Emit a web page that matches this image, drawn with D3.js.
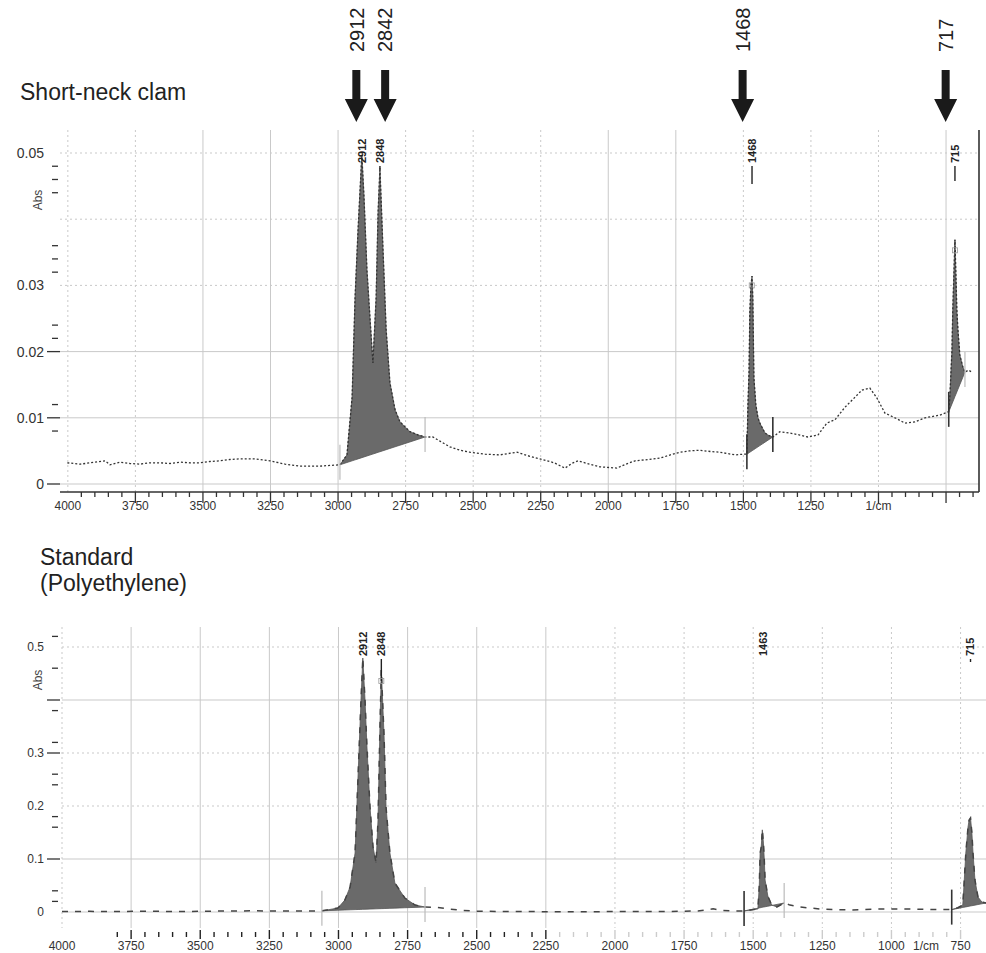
<!DOCTYPE html>
<html>
<head>
<meta charset="utf-8">
<script src="https://cdn.jsdelivr.net/npm/d3@7"></script>
<style>
  body { margin: 0; background: #fff; }
  svg text { font-family: "Liberation Sans", Arial, sans-serif; }
</style>
</head>
<body>
<svg id="chart" width="986" height="953"></svg>
<script>
// ---- DATA ----
// Short-neck clam spectrum: wavenumber (1/cm) and absorbance
const clamWn = [4002, 3954, 3899, 3862, 3844, 3807, 3770, 3733, 3696, 3659, 3622, 3585, 3548, 3511, 3474, 3437, 3400, 3363, 3307, 3252, 3196, 3141, 3104, 3067, 3030,
  2993, 2967, 2948, 2937, 2926, 2912, 2904, 2893, 2882, 2871, 2859, 2852, 2845, 2834, 2822, 2808, 2789, 2771, 2734, 2703, 2678,
  2649, 2620, 2586, 2549, 2512, 2456, 2401, 2370, 2338, 2300, 2253, 2200, 2160, 2135, 2112, 2070, 2031, 1968, 1935, 1901, 1850, 1809, 1770, 1735, 1700, 1661, 1620, 1587, 1531, 1500,
  1487, 1483, 1479, 1476, 1472, 1468, 1465, 1461, 1454, 1446, 1439, 1420, 1405, 1391,
  1365, 1328, 1291, 1261, 1224, 1191, 1161, 1124, 1087, 1061, 1032, 1006, 976, 939, 902, 865, 828, 773, 743,
  740, 736, 728, 725, 717, 710, 706, 699, 688, 680, 667, 654];
const clamAbs = [0.0032, 0.0030, 0.0033, 0.0035, 0.0029, 0.0033, 0.0031, 0.0030, 0.0032, 0.0032, 0.0031, 0.0033, 0.0032, 0.0032, 0.0034, 0.0035, 0.0037, 0.0038, 0.0038, 0.0035, 0.0030, 0.0027, 0.0027, 0.0027, 0.0028,
  0.0029, 0.0044, 0.0131, 0.0282, 0.0384, 0.0497, 0.0434, 0.0323, 0.0252, 0.0183, 0.0282, 0.0409, 0.0477, 0.0358, 0.0233, 0.0153, 0.0112, 0.0094, 0.0079, 0.0074, 0.0071,
  0.0071, 0.0064, 0.0056, 0.0051, 0.0048, 0.0045, 0.0044, 0.0046, 0.0048, 0.0043, 0.0038, 0.0032, 0.0024, 0.0031, 0.0035, 0.0030, 0.0026, 0.0024, 0.0030, 0.0035, 0.0037, 0.0039, 0.0044, 0.0048, 0.0050, 0.0051, 0.0049, 0.0048, 0.0044, 0.0045,
  0.0045, 0.0120, 0.0170, 0.0260, 0.0300, 0.0314, 0.0280, 0.0160, 0.0120, 0.0100, 0.0092, 0.0077, 0.0073, 0.0071,
  0.0079, 0.0077, 0.0074, 0.0071, 0.0074, 0.0092, 0.0097, 0.0116, 0.0131, 0.0142, 0.0145, 0.0130, 0.0107, 0.0100, 0.0092, 0.0094, 0.0100, 0.0104, 0.0109,
  0.0109, 0.0131, 0.0202, 0.0263, 0.0369, 0.0263, 0.0233, 0.0195, 0.0177, 0.0169, 0.0172, 0.0169];
const clamBands = [[2993, 2678], [1487, 1391], [740, 680]];
const clamPeakLabels = ["2912", "2848", "1468", "715"];
const clamPeakWn = [2912, 2845, 1468, 717];

// Standard (polyethylene) spectrum
const peWn = [4000, 3900, 3800, 3700, 3600, 3500, 3400, 3300, 3200, 3100,
  3060, 3042, 3002, 2977, 2958, 2940, 2933, 2926, 2919, 2912, 2904, 2897, 2886, 2875, 2864, 2857, 2850, 2845, 2835, 2828, 2814, 2796, 2760, 2723, 2687,
  2650, 2600, 2550, 2500, 2400, 2300, 2200, 2100, 2000, 1900, 1800, 1700, 1645, 1620, 1580,
  1533, 1483, 1478, 1475, 1471, 1467, 1463, 1460, 1457, 1447, 1433, 1414, 1388,
  1367, 1331, 1258, 1150, 1042, 933, 850,
  782, 760, 742, 738, 731, 723, 719, 714, 709, 705, 698, 687, 673, 658];
const peAbs = [0.0010, 0.0012, 0.0010, 0.0015, 0.0010, 0.0012, 0.0020, 0.0022, 0.0018, 0.0020,
  0.0022, 0.0038, 0.0075, 0.0226, 0.0472, 0.1113, 0.2057, 0.3000, 0.3943, 0.4792, 0.4000, 0.3113, 0.1981, 0.1226, 0.0925, 0.1736, 0.3490, 0.4566, 0.3302, 0.1981, 0.1113, 0.0547, 0.0264, 0.0132, 0.0094,
  0.0090, 0.0057, 0.0030, 0.0015, 0.0010, 0.0008, 0.0005, 0.0005, 0.0008, 0.0008, 0.0010, 0.0020, 0.0060, 0.0030, 0.0020,
  0.0020, 0.0057, 0.0500, 0.1113, 0.1226, 0.1550, 0.1300, 0.1000, 0.0604, 0.0300, 0.0132, 0.0094, 0.0170,
  0.0130, 0.0094, 0.0057, 0.0038, 0.0057, 0.0057, 0.0045,
  0.0045, 0.0080, 0.0132, 0.0472, 0.1113, 0.1604, 0.1736, 0.1774, 0.1490, 0.1113, 0.0604, 0.0283, 0.0189, 0.0170];
const peBands = [[3060, 2687], [1533, 1388], [782, 658]];
const pePeakLabels = ["2912", "2848", "1463", "715"];
const pePeakWn = [2912, 2845, 1465, 714];

// Arrow annotations above the top spectrum
const arrowLabels = ["2912", "2842", "1468", "717"];
const arrowWn = [2912, 2842, 1468, 717];

// Axis ticks
const gridWn = [4000, 3750, 3500, 3250, 3000, 2750, 2500, 2250, 2000, 1750, 1500, 1250, 1000, 750];
const topXLabels = ["4000", "3750", "3500", "3250", "3000", "2750", "2500", "2250", "2000", "1750", "1500", "1250", "1/cm"];
const botXLabels = ["4000", "3750", "3500", "3250", "3000", "2750", "2500", "2250", "2000", "1750", "1500", "1250", "1000", "1/cm", "750"];
const botXLabelWn = [4000, 3750, 3500, 3250, 3000, 2750, 2500, 2250, 2000, 1750, 1500, 1250, 1000, 875, 750];
const topYLabels = [0.05, 0.03, 0.02, 0.01, 0];
const topYMajor = [0.02, 0.01, 0];
const topYMinor = [0.048, 0.046, 0.044, 0.036, 0.034, 0.032, 0.024, 0.022, 0.012, 0.008];
const topYGrid = [0, 0.01, 0.02, 0.03, 0.04, 0.05];
const botYLabels = [0.5, 0.3, 0.2, 0.1, 0];
const botYMajor = [0.4, 0.3, 0.1];
const botYMinor = [0.52, 0.46, 0.38, 0.32, 0.26, 0.24, 0.18, 0.16, 0.04, 0.02];
const botYGrid = [0, 0.1, 0.2, 0.3, 0.4, 0.5];

// ---- SCALES ----
const svg = d3.select("#chart");
const xTop = d3.scaleLinear().domain([4029, 628]).range([60, 979]);
const yTop = d3.scaleLinear().domain([0, 0.05]).range([484, 153]);
const xBot = d3.scaleLinear().domain([4000, 658]).range([62, 986]);
const yBot = d3.scaleLinear().domain([0, 0.5]).range([912, 647]);

const GRID = "#c9c9c9";
const FILL = "#6a6a6a";

function fmt(v) { return v === 0 ? "0" : String(v); }

function drawPanel(p) {
  const g = svg.append("g");
  const [px0, px1] = p.x.range();

  // vertical grid
  g.selectAll(".vg").data(gridWn.filter(w => p.x(w) >= px0 - 1 && p.x(w) <= px1)).join("line")
    .attr("x1", d => p.x(d)).attr("x2", d => p.x(d))
    .attr("y1", p.top).attr("y2", p.bottom)
    .attr("stroke", GRID).attr("stroke-width", 1)
    .attr("stroke-dasharray", d => p.solidX.includes(d) ? null : "2,3");

  // horizontal grid
  g.selectAll(".hg").data(p.yGrid).join("line")
    .attr("x1", px0).attr("x2", px1)
    .attr("y1", d => p.y(d)).attr("y2", d => p.y(d))
    .attr("stroke", GRID).attr("stroke-width", 1)
    .attr("stroke-dasharray", d => p.solidY.includes(d) ? null : "2,3");

  // y axis ticks and labels
  g.selectAll(".ymin").data(p.yMinor).join("line")
    .attr("x1", 52).attr("x2", 58).attr("y1", d => p.y(d)).attr("y2", d => p.y(d))
    .attr("stroke", "#333").attr("stroke-width", 1.3);
  g.selectAll(".ymaj").data(p.yMajor).join("line")
    .attr("x1", 47).attr("x2", 60).attr("y1", d => p.y(d)).attr("y2", d => p.y(d))
    .attr("stroke", "#333").attr("stroke-width", 1.3);
  g.selectAll(".ylab").data(p.yLabels).join("text")
    .attr("x", 44).attr("y", d => p.y(d)).attr("dy", "0.36em")
    .attr("text-anchor", "end").attr("font-size", p.yFont).attr("fill", "#333")
    .text(fmt);
  g.append("text").attr("transform", `translate(38,${p.absY}) rotate(-90)`)
    .attr("dy", "0.36em").attr("text-anchor", "middle").attr("font-size", 12).attr("fill", "#444").text("Abs");

  const data = p.wn.map((w, i) => [w, p.abs[i]]);
  const line = d3.line().x(d => p.x(d[0])).y(d => p.y(d[1]));

  // integrated peak areas (between spectrum and straight baseline)
  p.bands.forEach(([hi, lo]) => {
    const pts = data.filter(d => d[0] <= hi && d[0] >= lo);
    const a = pts[0], b = pts[pts.length - 1];
    const base = w => a[1] + (b[1] - a[1]) * (w - a[0]) / (b[0] - a[0]);
    g.append("path").datum(pts)
      .attr("d", d3.area().x(d => p.x(d[0])).y0(d => p.y(base(d[0]))).y1(d => p.y(d[1])))
      .attr("fill", FILL).attr("stroke", "#555").attr("stroke-width", 0.8);
  });

  // spectrum trace
  g.append("path").datum(data).attr("d", line)
    .attr("fill", "none").attr("stroke", p.lineColor).attr("stroke-width", p.lineWidth)
    .attr("stroke-dasharray", p.dash);

  // band limit markers
  const ends = p.bands.flat();
  ends.forEach((w, i) => {
    const col = p.markerColors[i];
    if (!col) return;
    const d = data.find(e => e[0] === w);
    const cy = p.y(d[1]);
    g.append("line").attr("x1", p.x(w)).attr("x2", p.x(w))
      .attr("y1", cy - 20).attr("y2", cy + 15)
      .attr("stroke", col).attr("stroke-width", col === "#333" ? 1.6 : 1.2);
  });

  // peak labels
  p.peakWn.forEach((w, i) => {
    const cx = p.x(w);
    g.append("text").attr("transform", `translate(${cx},${p.labelEnd}) rotate(-90)`)
      .attr("dy", "0.36em").attr("text-anchor", "start")
      .attr("font-family", "'Liberation Sans Narrow', 'Arial Narrow', sans-serif")
      .attr("font-weight", "bold").attr("font-size", 11).attr("fill", "#222")
      .text(p.peakLabels[i]);
    if (p.peakTicks[i] > 0) {
      g.append("line").attr("x1", cx).attr("x2", cx)
        .attr("y1", p.labelEnd + 3).attr("y2", p.labelEnd + 3 + p.peakTicks[i])
        .attr("stroke", "#222").attr("stroke-width", 1.4);
    }
  });
  p.squares.forEach(([w, v]) => {
    g.append("rect").attr("x", p.x(w) - 2.5).attr("y", p.y(v) - 2.5)
      .attr("width", 5).attr("height", 5).attr("fill", "none")
      .attr("stroke", "#999").attr("stroke-width", 0.8);
  });
  return g;
}

// ---- TOP PANEL: short-neck clam ----
const gTop = drawPanel({
  x: xTop, y: yTop, top: 130, bottom: 492,
  wn: clamWn, abs: clamAbs, bands: clamBands,
  solidX: [3500, 3250, 3000, 2000, 1750, 750], yGrid: topYGrid, solidY: [0, 0.01, 0.02],
  yMinor: topYMinor, yMajor: topYMajor, yLabels: topYLabels, yFont: 14, absY: 200,
  lineColor: "#333", lineWidth: 1.3, dash: "2,2",
  markerColors: ["#bbb", "#bbb", "#333", "#333", "#333", "#bbb"],
  peakWn: clamPeakWn, peakLabels: clamPeakLabels, labelEnd: 163,
  peakTicks: [0, 3, 18, 15],
  squares: [[1469, 0.030], [717, 0.0353]]
});
// frame: right border and bottom axis
gTop.append("line").attr("x1", 979).attr("x2", 979).attr("y1", 130).attr("y2", 492)
  .attr("stroke", "#333").attr("stroke-width", 1.6);
gTop.append("line").attr("x1", 60).attr("x2", 979).attr("y1", 492).attr("y2", 492)
  .attr("stroke", "#333").attr("stroke-width", 1.6);
const topTicks = d3.range(3950, 640, -50);
gTop.selectAll(".xt").data(topTicks).join("line")
  .attr("x1", d => xTop(d)).attr("x2", d => xTop(d))
  .attr("y1", 492).attr("y2", d => d % 250 === 0 ? 503 : 497)
  .attr("stroke", "#333").attr("stroke-width", 1.3);
gTop.selectAll(".xl").data(topXLabels).join("text")
  .attr("x", (d, i) => xTop(gridWn[i])).attr("y", 510)
  .attr("text-anchor", "middle").attr("font-size", 12).attr("fill", "#333")
  .text(d => d);

// ---- BOTTOM PANEL: polyethylene standard ----
const gBot = drawPanel({
  x: xBot, y: yBot, top: 627, bottom: 928,
  wn: peWn, abs: peAbs, bands: peBands,
  solidX: [3750, 3500, 3250, 3000, 2750, 2500, 2250], yGrid: botYGrid, solidY: [0, 0.1, 0.4],
  yMinor: botYMinor, yMajor: botYMajor, yLabels: botYLabels, yFont: 12, absY: 680,
  lineColor: "#444", lineWidth: 1.5, dash: "6,7",
  markerColors: ["#bbb", "#bbb", "#333", "#bbb", "#333", null],
  peakWn: pePeakWn, peakLabels: pePeakLabels, labelEnd: 656,
  peakTicks: [0, 22, 0, 3],
  squares: [[2845, 0.436]]
});
const botTicks = d3.range(3800, 700, -50);
gBot.selectAll(".xt").data(botTicks).join("line")
  .attr("x1", d => xBot(d)).attr("x2", d => xBot(d))
  .attr("y1", d => d % 250 === 0 ? 930 : 932).attr("y2", d => d % 250 === 0 ? 939 : 937)
  .attr("stroke", d => d >= 2250 ? "#222" : "#ccc").attr("stroke-width", 1.4);
gBot.selectAll(".xl").data(botXLabels).join("text")
  .attr("x", (d, i) => xBot(botXLabelWn[i])).attr("y", 950)
  .attr("text-anchor", "middle").attr("font-size", 12).attr("fill", "#333")
  .text(d => d);

// ---- ANNOTATIONS ----
// arrows sit a little left of their peaks in the source; the 2912/2842 pair is spread apart
const arrowNudge = [-5.5, 4.4, -9.4, -9.3];
arrowWn.forEach((w, i) => {
  const cx = xTop(w) + arrowNudge[i];
  svg.append("path")
    .attr("d", `M${cx - 4},70 H${cx + 4} V99 H${cx + 11.5} L${cx},122 L${cx - 11.5},99 H${cx - 4} Z`)
    .attr("fill", "#1a1a1a");
  svg.append("text").attr("transform", `translate(${cx},52) rotate(-90)`)
    .attr("dy", "0.36em").attr("text-anchor", "start")
    .attr("font-size", 20).attr("fill", "#222").text(arrowLabels[i]);
});

svg.append("text").attr("x", 20).attr("y", 100).attr("font-size", 23).attr("fill", "#222").text("Short-neck clam");
svg.append("text").attr("x", 40).attr("y", 565).attr("font-size", 23).attr("fill", "#222").text("Standard");
svg.append("text").attr("x", 40).attr("y", 591).attr("font-size", 23).attr("fill", "#222").text("(Polyethylene)");
</script>
</body>
</html>
